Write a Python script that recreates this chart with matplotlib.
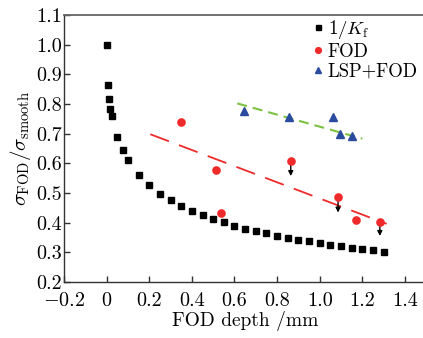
import matplotlib
matplotlib.use("Agg")
import matplotlib.pyplot as plt
import numpy as np

# 1/Kf curve
kf_x = [0, 0.006, 0.011, 0.017, 0.023, 0.05, 0.075, 0.1, 0.15, 0.2, 0.25, 0.3, 0.35,
        0.4, 0.45, 0.5, 0.55, 0.6, 0.65, 0.7, 0.75, 0.8, 0.85, 0.9, 0.95, 1.0,
        1.05, 1.1, 1.15, 1.2, 1.25, 1.3]
kf_y = [1.0, 0.864, 0.817, 0.784, 0.760, 0.690, 0.645, 0.611, 0.56, 0.527, 0.498,
        0.476, 0.456, 0.44, 0.426, 0.412, 0.401, 0.388, 0.379, 0.371, 0.364, 0.355,
        0.349, 0.343, 0.338, 0.331, 0.325, 0.320, 0.315, 0.310, 0.307, 0.302]

# FOD measurements
fod_x = [0.35, 0.515, 0.538, 0.864, 1.086, 1.169, 1.282]
fod_y = [0.738, 0.578, 0.434, 0.608, 0.486, 0.409, 0.402]

# upper-limit arrows (x, start, end)
arr_x = [0.864, 1.086, 1.282]
arr_y0 = [0.608, 0.486, 0.402]
arr_y1 = [0.557, 0.434, 0.355]

# LSP+FOD
lsp_x = [0.643, 0.856, 1.064, 1.097, 1.153]
lsp_y = [0.776, 0.757, 0.757, 0.699, 0.692]

# trend lines
fod_fit_x = [0.205, 1.314]
fod_fit_y = [0.698, 0.396]
lsp_fit_x = [0.613, 1.20]
lsp_fit_y = [0.802, 0.683]

plt.rcParams['font.family'] = ['cmr10', 'DejaVu Serif']
plt.rcParams['mathtext.fontset'] = 'cm'
plt.rcParams['axes.formatter.use_mathtext'] = True

fig = plt.figure(figsize=(4.23, 3.38), dpi=100)
ax = fig.add_axes([0.1513, 0.1657, 0.8565, 0.79])

red = '#ee2a2a'
blue = '#2b4c9e'
green = '#7cc242'

ax.plot(fod_fit_x, fod_fit_y, color=red, lw=1.3, dashes=(11, 6), zorder=1)
ax.plot(lsp_fit_x, lsp_fit_y, color=green, lw=1.5, dashes=(4.8, 2.9), zorder=1)

ax.plot(kf_x, kf_y, 's', color='black', ms=4.5, ls='none', label=r'$1/K_{\rm f}$', zorder=3)
ax.plot(fod_x, fod_y, 'o', color=red, ms=5.2, ls='none', label='FOD', zorder=3)
ax.plot(lsp_x, lsp_y, '^', color=blue, ms=5.5, ls='none', label='LSP+FOD', zorder=3)

for x, y0, y1 in zip(arr_x, arr_y0, arr_y1):
    ax.annotate('', xy=(x, y1), xytext=(x, y0),
                arrowprops=dict(arrowstyle='-|>', color='black', lw=1.0,
                                mutation_scale=7, shrinkA=0, shrinkB=0), zorder=2)

ax.set_xlim(-0.2, 1.5)
ax.set_ylim(0.2, 1.1)
ax.set_xticks(np.arange(-0.2, 1.41, 0.2))
ax.set_yticks(np.arange(0.2, 1.11, 0.1))
ax.xaxis.set_major_formatter(plt.FuncFormatter(lambda v, p: '0' if abs(v) < 1e-9 else ('$-$%.1f' % -v if v < 0 else '%.1f' % v)))
ax.yaxis.set_major_formatter(plt.FuncFormatter(lambda v, p: '%.1f' % v))
ax.tick_params(direction='in', length=4, width=1, labelsize=14.5, colors='#333333', labelcolor='black')
ax.tick_params(axis='x', pad=7)
ax.tick_params(axis='y', pad=1.5)

ax.spines['right'].set_visible(False)
ax.spines['top'].set_color('#666666')
ax.spines['top'].set_linewidth(1.3)
for s in ['left', 'bottom']:
    ax.spines[s].set_color('#333333')
    ax.spines[s].set_linewidth(1.0)

ax.set_xlabel('FOD depth /mm', fontsize=14, labelpad=1)
ax.set_ylabel(r'$\sigma_{\rm FOD}/\sigma_{\rm smooth}$', fontsize=15, labelpad=2)

ax.legend(loc='upper left', bbox_to_anchor=(0.645, 1.045), frameon=False, fontsize=13.5,
          handlelength=0.6, handletextpad=0.2, labelspacing=0.1, borderpad=0.3,
          markerscale=0.8)

fig.savefig('out.png', dpi=100)
